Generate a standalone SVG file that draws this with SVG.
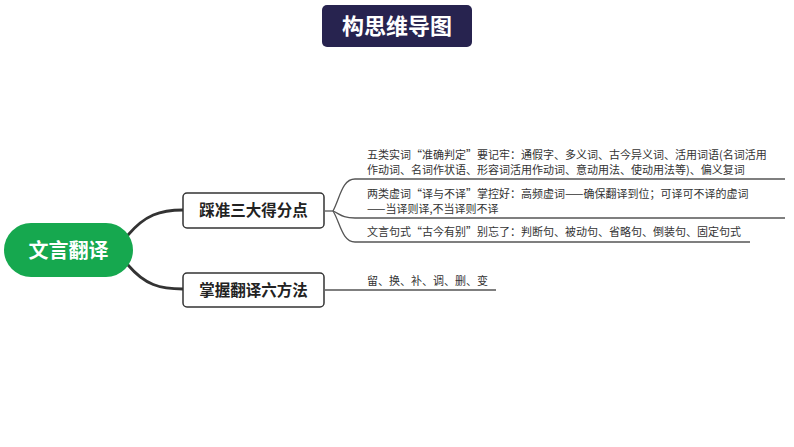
<svg xmlns="http://www.w3.org/2000/svg" width="794" height="447" viewBox="0 0 794 447">
<style>
.cjk{font-family:"Noto Sans CJK SC","Noto Sans",sans-serif}
.note{font-size:11px;fill:#333}
.box{fill:#fff;stroke:#333;stroke-width:1.5}
.boxt{font-size:15.5px;font-weight:bold;fill:#222}
.main{fill:none;stroke:#333;stroke-width:2.8;stroke-linecap:round}
.sub{fill:none;stroke:#555;stroke-width:1.3}
</style>
<rect width="794" height="447" fill="#fff"/>
<g id="title">
<rect x="322" y="5" width="150" height="42" rx="5" fill="#27234f"/>
<text x="397" y="34" class="cjk" font-size="22" font-weight="bold" fill="#fff" text-anchor="middle">构思维导图</text>
</g>
<g id="connectors">
<path class="main" d="M128,235 C145,215 160,210 183,210"/>
<path class="main" d="M128,265 C145,285 160,289 183,289"/>
<path class="sub" d="M325,211 L333,211"/>
<path class="sub" d="M333,211 C340,198 342,179 355,179 L785,179"/>
<path class="sub" d="M333,211 C340,214 342,218 355,218 L785,218"/>
<path class="sub" d="M333,211 C340,222 342,242 355,242 L750,242"/>
<path class="sub" d="M325,290 L496,290"/>
</g>
<g id="root">
<rect x="4" y="223" width="129" height="54" rx="27" fill="#16a84f"/>
<text x="68.5" y="257.5" class="cjk" font-size="20" font-weight="bold" fill="#fff" text-anchor="middle">文言翻译</text>
</g>
<g id="node1">
<rect class="box" x="183" y="193" width="141" height="35" rx="4"/>
<text x="253.5" y="216" class="cjk boxt" text-anchor="middle">踩准三大得分点</text>
</g>
<g id="node2">
<rect class="box" x="183" y="273" width="141" height="34" rx="4"/>
<text x="253.5" y="295.5" class="cjk boxt" text-anchor="middle">掌握翻译六方法</text>
</g>
<g id="leaf1">
<text x="367" y="159" class="cjk note">五类实词“准确判定”要记牢：通假字、多义词、古今异义词、活用词语(名词活用</text>
<text x="367" y="173.5" class="cjk note">作动词、名词作状语、形容词活用作动词、意动用法、使动用法等)、偏义复词</text>
</g>
<g id="leaf2">
<text x="367" y="198" class="cjk note">两类虚词“译与不译”掌控好：高频虚词——确保翻译到位；可译可不译的虚词</text>
<text x="367" y="212.5" class="cjk note">——当译则译,不当译则不译</text>
</g>
<g id="leaf3">
<text x="367" y="236" class="cjk note">文言句式“古今有别”别忘了：判断句、被动句、省略句、倒装句、固定句式</text>
</g>
<g id="leaf4">
<text x="367" y="285" class="cjk note">留、换、补、调、删、变</text>
</g>
</svg>
